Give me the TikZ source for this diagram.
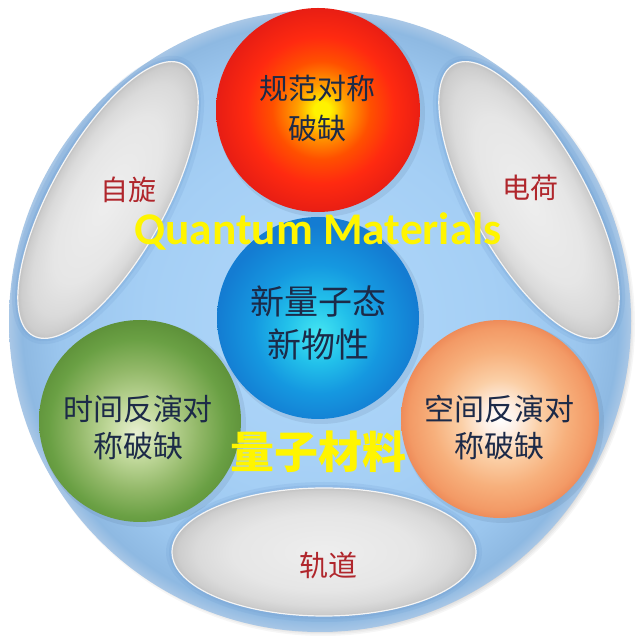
\documentclass[tikz,border=0pt]{standalone}
\usepackage{fontspec}
\setmainfont{Carlito}
\newfontfamily\cjk{Noto Sans CJK SC}
\newfontfamily\calib{Carlito}
\definecolor{labred}{HTML}{B0262C}
\definecolor{navy}{HTML}{1C2A48}
\definecolor{qyellow}{HTML}{FFF500}
\definecolor{halo}{HTML}{6E9CCF}
\definecolor{rb0}{HTML}{FFF200}
\definecolor{rb1}{HTML}{FFA000}
\definecolor{rb2}{HTML}{FF5000}
\definecolor{rb3}{HTML}{FF2A10}
\definecolor{rb4}{HTML}{E81E14}
\definecolor{bb0}{HTML}{45E6F2}
\definecolor{bb1}{HTML}{22C0EA}
\definecolor{bb2}{HTML}{1598E0}
\definecolor{bb3}{HTML}{147CD2}
\definecolor{gb0}{HTML}{E8F0D2}
\definecolor{gb1}{HTML}{C0D89A}
\definecolor{gb2}{HTML}{92B868}
\definecolor{gb3}{HTML}{6AA044}
\definecolor{gb4}{HTML}{5A8C36}
\definecolor{ob0}{HTML}{FFFFFF}
\definecolor{ob1}{HTML}{FEF0E6}
\definecolor{ob2}{HTML}{FBCFA6}
\definecolor{ob3}{HTML}{F7B07C}
\definecolor{ob4}{HTML}{F39A66}
\definecolor{ob5}{HTML}{EE8C5A}
\definecolor{cb0}{HTML}{B0D8FA}
\definecolor{cb1}{HTML}{A5CFF5}
\definecolor{cb2}{HTML}{9BC6EE}
\definecolor{cb3}{HTML}{8EB9E2}
\definecolor{cb4}{HTML}{A9C7E6}
\definecolor{ge0}{HTML}{EEEEEE}
\definecolor{ge1}{HTML}{E6E6E6}
\definecolor{ge2}{HTML}{DADADA}
\definecolor{ge3}{HTML}{CDCDCD}
\definecolor{ge4}{HTML}{C2C2C2}
\pgfdeclareradialshading{redball}{\pgfpoint{1bp}{0bp}}{color(0bp)=(rb0); color(2bp)=(rb0); color(6bp)=(rb1); color(12bp)=(rb2); color(18bp)=(rb3); color(25bp)=(rb4); color(50bp)=(rb4)}
\pgfdeclareradialshading{blueball}{\pgfpoint{0bp}{-4bp}}{color(0bp)=(bb0); color(8bp)=(bb1); color(16bp)=(bb2); color(25bp)=(bb3); color(50bp)=(bb3)}
\pgfdeclareradialshading{greenball}{\pgfpoint{-1bp}{-3bp}}{color(0bp)=(gb0); color(7bp)=(gb1); color(15bp)=(gb2); color(22bp)=(gb3); color(28bp)=(gb4); color(50bp)=(gb4)}
\pgfdeclareradialshading{orangeball}{\pgfpoint{0bp}{0bp}}{color(0bp)=(ob0); color(4bp)=(ob1); color(10bp)=(ob2); color(17bp)=(ob3); color(23bp)=(ob4); color(25bp)=(ob5); color(50bp)=(ob5)}
\pgfdeclareradialshading{bigball}{\pgfpoint{0bp}{0bp}}{color(0bp)=(cb0); color(14bp)=(cb1); color(21bp)=(cb2); color(24bp)=(cb3); color(25bp)=(cb4); color(50bp)=(cb4)}
\pgfdeclareradialshading{grayell}{\pgfpoint{0bp}{0bp}}{color(0bp)=(ge0); color(15bp)=(ge1); color(21bp)=(ge2); color(24bp)=(ge3); color(25bp)=(ge4); color(50bp)=(ge4)}
\begin{document}
\begin{tikzpicture}[x=1pt,y=1pt,
  lab/.style={font=\cjk\fontsize{28}{30}\selectfont, text=labred, inner sep=0pt},
  balltext/.style={font=\cjk\fontsize{30}{37}\selectfont, text=navy, align=center, inner sep=0pt},
  ellrim/.style={draw=white!92!gray, line width=1.2pt},
]
\useasboundingbox[fill=white] (0,0) rectangle (640,640);
% shadow of the big disc
\foreach \i in {1,...,6} \fill[black, opacity=0.035] (323,316) circle ({303+1.5*\i});
\shade[shading=bigball] (320,319) circle (311);
% left ellipse
\begin{scope}[transform canvas={shift={(108,440)},rotate=61}]
  \fill[halo, opacity=0.18] (0,0) ellipse (161 and 64);
  \fill[halo, opacity=0.22] (0,0) ellipse (158 and 60);
  \shade[shading=grayell, ellrim] (0,0) ellipse (155 and 57);
\end{scope}
% right ellipse
\begin{scope}[transform canvas={shift={(529,440)},rotate=-61}]
  \fill[halo, opacity=0.18] (0,0) ellipse (161 and 64);
  \fill[halo, opacity=0.22] (0,0) ellipse (158 and 60);
  \shade[shading=grayell, ellrim] (0,0) ellipse (155 and 57);
\end{scope}
% bottom ellipse
\begin{scope}[transform canvas={shift={(324,88)}}]
  \fill[halo, opacity=0.18] (0,0) ellipse (158 and 70);
  \fill[halo, opacity=0.22] (0,0) ellipse (155 and 67);
  \shade[shading=grayell, ellrim] (0,0) ellipse (152 and 64);
\end{scope}
% spheres
\fill[halo!60!black, opacity=0.12] (321,527) circle (104);
\shade[shading=redball] (318,530) circle (102);
\fill[halo!60!black, opacity=0.12] (321,319) circle (103);
\shade[shading=blueball] (318,322) circle (101);
\fill[halo!60!black, opacity=0.12] (143,216) circle (103);
\shade[shading=greenball] (140,219) circle (101);
\fill[halo!60!black, opacity=0.12] (503,218) circle (101);
\shade[shading=orangeball] (500,221) circle (99);
% labels
\node[lab] (spin) at (128,450) {自旋};
\node[lab] (charge) at (530,452) {电荷};
\node[lab,font=\cjk\fontsize{29}{30}\selectfont] (orbit) at (328,75) {轨道};
\node[balltext, font=\cjk\fontsize{29}{40}\selectfont] (gauge) at (317,532) {规范对称\\破缺};
\node[balltext, font=\cjk\fontsize{34}{43}\selectfont] (newq) at (318,317) {新量子态\\新物性};
\node[balltext] (trev) at (138,212) {时间反演对\\称破缺};
\node[balltext] (sinv) at (499,212) {空间反演对\\称破缺};
\node[anchor=base, text=qyellow, inner sep=0pt] (qm) at (318,395) {\resizebox{367pt}{!}{\calib\bfseries Quantum Materials}};
\node[text=qyellow, inner sep=0pt, font=\cjk\bfseries\fontsize{44}{44}\selectfont] (lzcl) at (318,188) {量子材料};
\end{tikzpicture}
\end{document}
